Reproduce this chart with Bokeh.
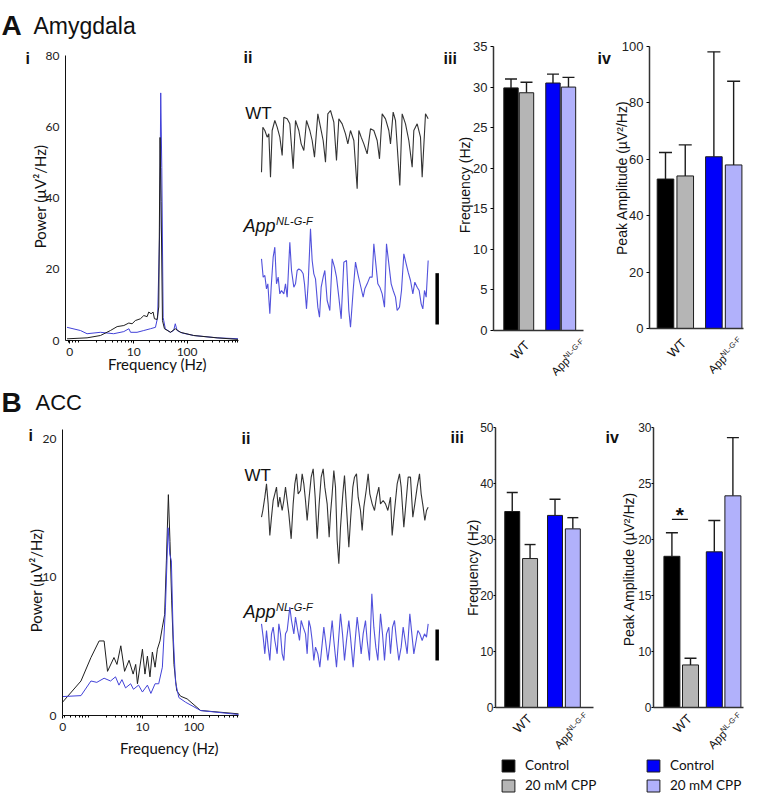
import math
from bokeh.plotting import figure
from bokeh.layouts import row, column
from bokeh.models import (Range1d, FixedTicker, Label, Legend, LegendItem, LinearAxis,
                          LogAxis, Whisker, TeeHead, ColumnDataSource,
                          CustomJSTickFormatter)
from bokeh.embed import file_html
from bokeh.resources import INLINE

ARIAL = "Liberation Sans"
CAL = "Lato"

# ---------------------------------------------------------------- data
GROUPS = ["WT", "App"]
CONDITIONS = ["Control", "20 mM CPP"]
BAR_COLORS = ["#000000", "#b5b5b5", "#0000fa", "#b1b1fb"]

A_FREQ_MEAN = [29.9, 29.3, 30.5, 30.0]
A_FREQ_SEM = [1.1, 1.3, 1.1, 1.2]
A_AMP_MEAN = [53.0, 54.1, 60.9, 58.0]
A_AMP_SEM = [9.4, 11.0, 37.2, 29.7]
B_FREQ_MEAN = [35.0, 26.6, 34.3, 31.9]
B_FREQ_SEM = [3.4, 2.5, 2.9, 2.0]
B_AMP_MEAN = [18.5, 8.8, 18.9, 23.9]
B_AMP_SEM = [2.1, 0.6, 2.8, 5.2]
B_AMP_SIG = 21.8
B_AMP_AXIS_BASE = 5   # the bottom of this broken axis sits at 5 but is labelled "0"

# power spectra (Hz, uV^2/Hz)
A_WT_F = [0.56, 1.33, 2.37, 3.65, 4.87, 6.5, 8.06, 9.3, 10.7, 13.3, 15.4, 17.8, 19.1, 21.1,
          23.0, 24.4, 27.4, 29.4, 31.1, 32.5, 34.5, 37.6, 48.7, 60, 75, 133, 365, 900]
A_WT_P = [0.47, 0.75, 1.4, 2.8, 3.9, 4.2, 4.9, 4.7, 5.6, 6.1, 7.0, 6.7, 8.0, 7.5,
          8.0, 6.1, 5.9, 9.4, 57.0, 39.0, 5.6, 3.3, 2.3, 3.3, 2.3, 1.4, 0.75, 0.3]
A_APP_F = [0.56, 1.0, 1.33, 2.37, 4.2, 6.5, 8.1, 8.7, 11.5, 15.4, 20.5, 25.5, 28.0,
           30.7, 32.0, 33.5, 35.5, 39.0, 48.7, 56, 60, 65, 81, 133, 365, 900]
A_APP_P = [3.7, 2.8, 1.9, 2.3, 1.9, 2.5, 3.3, 2.3, 2.3, 2.8, 3.3, 3.7, 6.5,
           31.8, 69.5, 48.6, 6.5, 3.3, 2.3, 2.8, 4.7, 2.8, 2.1, 1.4, 0.75, 0.5]
B_WT_F = [0.28, 0.64, 1.0, 1.44, 1.8, 2.1, 2.8, 3.2, 3.8, 4.5, 5.5, 6.6, 7.4, 8.0, 10,
          11.2, 12.5, 14, 15.6, 17.6, 19.5, 21.9, 24.4, 27, 29.2, 31.9, 34.3, 37, 41,
          46.3, 55, 74, 135, 735]
B_WT_P = [0.96, 2.5, 4.2, 5.4, 5.4, 3.2, 4.2, 3.7, 5.05, 3.2, 4.0, 3.0, 3.7, 2.3, 4.8,
          3.0, 4.3, 2.8, 4.6, 3.5, 4.8, 5.4, 6.4, 7.3, 11.2, 16.0, 12.6, 8.3, 3.7,
          1.8, 1.4, 1.2, 0.36, 0.12]
B_APP_F = [0.28, 0.64, 1.0, 1.3, 1.8, 2.4, 3.0, 3.5, 4.0, 4.7, 5.9, 6.7, 8.4, 10, 12.5,
           14.6, 17.6, 20.7, 24.4, 28, 31.5, 34, 36.5, 39.5, 44, 51, 69, 135, 735]
B_APP_P = [1.37, 1.44, 2.5, 2.4, 2.7, 2.5, 2.8, 2.2, 2.6, 2.0, 2.3, 1.9, 2.2, 1.7, 2.2,
           1.6, 2.3, 2.3, 3.5, 7.8, 13.6, 11.7, 11.2, 5.9, 2.4, 1.3, 0.96, 0.36, 0.07]

# example traces (ms, arbitrary voltage units)
A_WT_T = [0, 2, 5, 8.5, 11, 13.5, 16, 20, 23.5, 27.5, 31, 33.5, 38.5, 42.5, 47.5, 51, 56,
          59.5, 63.5, 67.5, 72.5, 76, 79.5, 84.5, 88.5, 92.5, 96, 99.5, 103.5, 108.5,
          112.5, 116, 121, 126, 129.5, 133.5, 138.5, 143.5, 146, 149.5, 153.5, 158.5,
          163.5, 168.5, 173.5, 177, 181, 186, 191, 193.5, 197.5, 201, 207.5, 211, 216,
          221, 226, 228.5, 233.5, 238.5, 241, 246, 250]
A_WT_V = [-1.25, 0.10, 0.00, -0.20, -0.10, -1.40, 0.00, 0.30, 0.10, -0.20, -0.75, 0.40,
          0.35, 0.20, -1.15, 0.30, 0.00, -0.40, -0.60, 0.30, 0.00, -0.30, -0.80, 0.50,
          0.10, -0.30, -0.95, 0.50, 0.60, 0.25, -0.90, 0.35, 0.20, -0.10, -0.40, 0.00,
          -0.30, -1.75, 0.00, -0.20, -0.40, -0.70, 0.05, 0.00, -0.30, -0.85, 0.50, 0.35,
          0.00, -0.40, 0.55, 0.30, -1.65, 0.50, 0.20, -0.30, -1.10, 0.00, 0.20, -0.20,
          -1.40, 0.50, 0.35]
A_APP_T = [0, 2.5, 5, 7.5, 9.5, 12.5, 14.5, 17.5, 20, 22.5, 25, 27.5, 30, 33.5, 36, 38.5,
           42.5, 45, 48.5, 51, 53.5, 56, 59.5, 62.5, 64.5, 67.5, 70, 73.5, 76, 78.5, 81,
           84.5, 87, 89.5, 92.5, 95, 98.5, 102.5, 106, 109.5, 112.5, 116, 119.5, 123.5,
           127.5, 131, 133.5, 137.5, 141, 144.5, 148.5, 152.5, 155, 158.5, 162.5, 166,
           168.5, 171.5, 174.5, 177.5, 181, 184.5, 187.5, 191, 194.5, 197.5, 201, 203.5,
           207, 210, 213.5, 217, 220, 223.5, 227, 230, 233.5, 236.5, 239.5, 242, 244.5,
           247, 250]
A_APP_V = [0.65, 0.10, 0.15, -0.25, -0.10, -1.00, -0.20, 0.70, 1.00, -0.10, 0.10, -0.40,
           -0.30, -0.40, -0.10, -0.50, 1.15, 0.30, -0.20, -0.10, 0.30, 0.35, 0.30, 0.20,
           -0.10, -0.85, -0.10, 1.55, 0.60, 0.20, 0.05, -0.80, -1.10, -0.20, 0.10, 0.30,
           -0.60, -0.90, 0.65, 0.40, 0.10, -0.50, -1.15, 0.55, 0.60, -0.90, -1.40, -0.30,
           0.55, 0.20, -0.15, -0.50, -0.25, -0.10, 0.10, 0.10, 1.10, 0.50, -0.10, -0.20,
           -0.40, -0.80, 1.10, 0.50, -0.10, -0.30, -0.50, -0.90, -0.80, -0.30, 0.80, 0.50,
           0.25, 0.00, -0.40, -0.05, -0.20, -0.30, -0.70, -0.85, -0.30, -0.50, 0.60]
B_WT_T = [0, 2, 5, 7.5, 10, 12.5, 15, 17.5, 20, 22.5, 25, 27.5, 31, 33.5, 36, 38.5, 41,
          44.5, 47.5, 50, 52.5, 55, 58.5, 61, 63.5, 66, 68.5, 71.5, 74.5, 77.5, 80.5,
          83.5, 86.5, 89.5, 92.5, 95, 98.5, 101.5, 103.5, 106, 108.5, 111, 113.5, 116,
          118.5, 122, 124.5, 127.5, 131, 133.5, 137, 139.5, 142.5, 145, 148.5, 151,
          153.5, 157, 160, 162.5, 166, 169.5, 172.5, 176, 178.5, 182.5, 186, 189.5,
          193.5, 196, 199.5, 203.5, 207, 209.5, 213.5, 217, 220, 223.5, 227, 230, 233.5,
          237, 239.5, 242.5, 245, 247.5, 250]
B_WT_V = [0.10, 0.30, 0.70, 1.10, 0.50, -0.45, 0.10, 0.60, 0.80, 1.00, 0.40, 0.70, 0.30,
          0.60, 1.00, 0.60, 0.20, -0.55, 0.50, 1.10, 1.40, 0.80, 0.90, 1.40, 1.10, 0.60,
          0.00, 0.70, 1.30, 1.55, 0.70, -0.55, 0.50, 1.30, 1.55, 1.00, 0.50, -0.50, 0.20,
          0.80, 1.50, 1.00, -0.60, -1.30, -0.20, 0.80, 1.35, 0.40, -0.80, 0.00, 1.00,
          1.30, 1.40, 0.70, 0.30, -0.30, 0.40, 0.90, 1.40, 0.80, 0.50, 0.30, 0.70, 1.00,
          0.50, 0.60, 0.50, 0.30, 0.70, -0.45, 0.30, 1.10, 1.40, 1.00, -0.20, 0.60, 1.30,
          1.30, 0.10, 0.50, 1.00, 1.40, 0.80, 0.40, 0.00, 0.30, 0.40]
B_APP_T = [0, 2.5, 5, 7.5, 10, 12.5, 15, 17.5, 20, 23.5, 26, 28.5, 31, 33.5, 36, 38.5,
           42.5, 45, 48.5, 51, 53.5, 57, 59.5, 62.5, 66, 68.5, 71, 73.5, 76, 78.5, 81,
           84.5, 87.5, 90.5, 93.5, 96, 99.5, 102.5, 106, 108.5, 112.5, 115.5, 118.5,
           121.5, 124.5, 127.5, 131, 133.5, 137.5, 140.5, 143.5, 146.5, 149.5, 152.5,
           156, 158.5, 162, 165.5, 168.5, 171.5, 174.5, 178.5, 181.5, 184.5, 187.5, 191,
           193.5, 196.5, 199.5, 202.5, 206, 209.5, 212.5, 215.5, 218.5, 222.5, 225.5,
           228.5, 232, 234.5, 237.5, 241, 244.5, 247.5, 250]
B_APP_V = [0.30, -0.10, -0.60, 0.10, -0.40, -0.80, 0.00, 0.20, -0.20, -0.60, 0.30, 0.00,
           -0.60, -0.80, 0.00, 0.10, 0.80, 0.40, 0.00, 0.50, 0.20, -0.20, 0.40, 0.20,
           0.00, -0.60, 0.40, 0.20, -0.20, -0.80, -0.40, -0.60, -1.00, -0.40, 0.20,
           -0.20, -0.80, -0.30, 0.40, -0.20, -1.00, -0.20, 0.60, 0.00, -0.80, -0.20,
           0.40, -0.10, -1.00, -0.20, 0.50, 0.00, -0.60, 0.00, 0.40, -0.20, -0.80, 1.20,
           0.20, -0.40, -0.80, 0.60, 0.00, -0.80, 0.00, 0.20, -0.60, 0.20, 0.40, -0.20,
           -0.80, -0.40, 0.20, -0.20, -0.60, 0.60, 0.00, -0.60, -0.20, 0.10, 0.00,
           -0.20, 0.00, -0.10, 0.30]
SCALE_A = 1.54
SCALE_B = 0.93


# ---------------------------------------------------------------- helpers
def span_range(v0, v1, lo_px, hi_px, total_px, log=False):
    if log:
        v0, v1 = math.log10(v0), math.log10(v1)
    per = (v1 - v0) / (total_px - lo_px - hi_px)
    a, b = v0 - lo_px * per, v1 + hi_px * per
    if log:
        a, b = 10 ** a, 10 ** b
    return Range1d(a, b)


def new_fig(w, h, xr, yr, x_type="linear"):
    p = figure(width=w, height=h, x_range=xr, y_range=yr, x_axis_type=x_type,
               x_axis_location=None, y_axis_location=None,
               output_backend="svg", toolbar_location=None, min_border=0,
               frame_align=False)
    for g in p.grid:
        g.visible = False
    p.outline_line_color = None
    return p


def txt(p, text, x, y, size, org=(0, 0), font=ARIAL, style="normal", align="left",
        baseline="alphabetic", angle=0.0, units="screen", dx=0, dy=0, color="#111111"):
    if units == "screen":
        x, y = x + org[0], y + org[1]
    p.add_layout(Label(x=x, y=y, x_units=units, y_units=units, text=text,
                       text_font=font, text_font_size=f"{size}px", text_font_style=style,
                       text_align=align, text_baseline=baseline, angle=angle,
                       x_offset=dx, y_offset=dy, text_color=color))


def add_axes(p, x0, x1, y0, y1, log_x=False):
    ax_cls = LogAxis if log_x else LinearAxis
    xa = ax_cls(fixed_location=y0, bounds=(x0, x1))
    ya = LinearAxis(fixed_location=x0, bounds=(y0, y1))
    p.add_layout(xa, "below")
    p.add_layout(ya, "left")
    return xa, ya


def psd_panel(w, h, box, x_start, x_end, zero_tick, y_end, y_ticks, wt, app, app_on_top):
    left, right, top, bottom = box
    p = new_fig(w, h, span_range(x_start, x_end, left, right, w, log=True),
                span_range(0, y_end, bottom, top, h), x_type="log")
    black = dict(line_color="#1e1e1e", line_width=1)
    blue = dict(line_color="#4242d8", line_width=1)
    if app_on_top:
        p.line(wt[0], wt[1], **black)
        p.line(app[0], app[1], **blue)
    else:
        p.line(app[0], app[1], **blue)
        p.line(wt[0], wt[1], **black)
    xa, ya = add_axes(p, x_start, x_end, 0, y_end, log_x=True)
    minor = [m * 10.0 ** e for e in range(-1, 3) for m in range(2, 10)
             if x_start < m * 10.0 ** e < x_end]
    xa.ticker = FixedTicker(ticks=[zero_tick, 10, 100], minor_ticks=minor)
    xa.major_label_overrides = {zero_tick: "0", 10: "10", 100: "100"}
    xa.major_tick_out = 3
    xa.major_tick_in = 0
    xa.minor_tick_out = 2
    xa.minor_tick_in = 0
    xa.major_label_standoff = 4
    ya.ticker = FixedTicker(ticks=y_ticks)
    ya.major_tick_out = 0
    ya.major_tick_in = 0
    ya.minor_tick_line_color = None
    ya.major_label_standoff = 6
    for a in (xa, ya):
        a.axis_line_color = "#111111"
        a.axis_line_width = 1
        a.major_label_text_font = CAL
        a.major_label_text_font_size = "12px"
        a.major_label_text_color = "#222222"
    return p


def bar_panel(w, h, box, pos, x0, x1, y_end, means, sems, bar_w, head, yticks,
              tick_out, tick_std, tick_size, lab_dx, lab_dy, base=0):
    """Bars start at `base`; the axis is drawn from 0 in shifted units (value - base),
    and tick labels show the real value, the bottom tick being labelled 0."""
    left, right, top, bottom = box
    span = y_end - base
    p = new_fig(w, h, span_range(x0, x1, left, right, w),
                span_range(0, span, bottom, top, h))
    shifted = [m - base for m in means]
    src = ColumnDataSource(dict(x=pos, top=shifted, bottom=[0] * len(means),
                                upper=[m + s for m, s in zip(shifted, sems)],
                                color=BAR_COLORS))
    p.vbar(x="x", top="top", bottom="bottom", width=bar_w, fill_color="color",
           line_color="#1c1c1c", line_width=1, source=src)
    p.add_layout(Whisker(source=src, base="x", lower="top", upper="upper",
                         dimension="height", line_color="#1c1c1c", line_width=1.4,
                         lower_head=None,
                         upper_head=TeeHead(size=head, line_color="#1c1c1c",
                                            line_width=1.4)))
    xa, ya = add_axes(p, x0, x1, 0, span)
    ya.ticker = FixedTicker(ticks=[t - base for t in yticks])
    ya.formatter = CustomJSTickFormatter(
        args=dict(base=base),
        code="return (Math.abs(tick) < 1e-9) ? '0' : String(Math.round(tick + base));")
    ya.major_tick_out = tick_out
    ya.major_tick_in = 0
    ya.minor_tick_line_color = None
    ya.major_label_standoff = tick_std
    ya.major_label_text_font = ARIAL
    ya.major_label_text_font_size = f"{tick_size}px"
    ya.major_label_text_color = "#222222"
    xa.ticker = FixedTicker(ticks=[])
    xa.major_tick_line_color = None
    xa.minor_tick_line_color = None
    xa.major_label_text_font_size = "0px"
    for a in (xa, ya):
        a.axis_line_color = "#333333"
        a.axis_line_width = 1.5
    # rotated category labels
    c_wt = (pos[0] + pos[1]) / 2
    c_app = (pos[2] + pos[3]) / 2
    rot = math.pi / 4
    txt(p, GROUPS[0], c_wt, 0, 13, align="right", angle=rot, units="data",
        dx=8.5, dy=-12.5 + lab_dy)
    txt(p, GROUPS[1], c_app, 0, 11.5, align="right", angle=rot, units="data",
        dx=7 + lab_dx, dy=-28.5 + lab_dy)
    txt(p, "NL-G-F", c_app, 0, 7.5, align="right", angle=rot, units="data",
        dx=21.5 + lab_dx, dy=-9.5 + lab_dy)
    return p


def trace_panel(h, yr, wt_t, wt_v, app_t, app_v, app_off, bar_len, bar_top_rel):
    p = new_fig(203, h, Range1d(-31.5, 273), Range1d(*yr))
    p.line(wt_t, wt_v, line_color="#333333", line_width=1.1)
    p.line(app_t, [v + app_off for v in app_v], line_color="#5252dc", line_width=1.1)
    sb_x = app_t[-1] + 13.5
    sb_top = app_off + bar_top_rel
    p.segment(x0=[sb_x], y0=[sb_top], x1=[sb_x], y1=[sb_top - bar_len],
              line_color="#000000", line_width=3.5)
    return p


# ---------------------------------------------------------------- row A
BOX_AI = (65, 2, 55, 40)
pAi = psd_panel(240, 380, BOX_AI, 0.524, 920, 0.63, 80, [0, 20, 40, 60, 80],
                (A_WT_F, A_WT_P), (A_APP_F, A_APP_P), app_on_top=False)
o = (BOX_AI[0], BOX_AI[3])
txt(pAi, "A", -64, 315, 28, o, style="bold")
txt(pAi, "Amygdala", -32, 315, 23, o)
txt(pAi, "i", -40, 282, 16, o, style="bold")
txt(pAi, "Power (\u00b5V\u00b2/Hz)", -26, 144, 15, o, font=CAL, align="center",
    baseline="middle", angle=math.pi / 2)
txt(pAi, "Frequency (Hz)", 92, -23.8, 15, o, font=CAL, align="center")

pAii = trace_panel(380, (-7.5, 3.9), A_WT_T, A_WT_V, A_APP_T, A_APP_V, -4.5,
                   SCALE_A, 0.22)
txt(pAii, "ii", 3, 323, 16, style="bold")
txt(pAii, "WT", 4.7, 266.7, 17)
txt(pAii, "App", 3, 154.3, 18, style="italic")
txt(pAii, "NL-G-F", 35.5, 160, 11, style="italic")

BOX_A3 = (50, 12, 46, 50)
POS_A3 = [0, 1, 2.71, 3.71]
pAiii = bar_panel(152, 380, BOX_A3, POS_A3, -1.13, 4.68, 35,
                  A_FREQ_MEAN, A_FREQ_SEM, 0.93, 12, [0, 5, 10, 15, 20, 25, 30, 35],
                  3, 3, 13, 0, 0)
o = (BOX_A3[0], BOX_A3[3])
txt(pAiii, "iii", -50, 272, 16, o, style="bold")
txt(pAiii, "Frequency (Hz)", -29, 145.5, 14, o, align="center", baseline="middle",
    angle=math.pi / 2)

BOX_A4 = (54, 2, 46, 52)
POS_A4 = [0, 1, 2.45, 3.45]
pAiv = bar_panel(150, 380, BOX_A4, POS_A4, -0.81, 3.95, 100,
                 A_AMP_MEAN, A_AMP_SEM, 0.84, 13, [0, 20, 40, 60, 80, 100],
                 3, 3, 13, -6, 0)
o = (BOX_A4[0], BOX_A4[3])
txt(pAiv, "iv", -52, 270, 16, o, style="bold")
txt(pAiv, "Peak Amplitude (\u00b5V\u00b2/Hz)", -28, 150.7, 14, o, align="center",
    baseline="middle", angle=math.pi / 2)

# ---------------------------------------------------------------- row B
BOX_BI = (62, 2, 49, 78)
pBi = psd_panel(240, 413, BOX_BI, 0.28, 735, 0.282, 20.72, [0, 10, 20],
                (B_WT_F, B_WT_P), (B_APP_F, B_APP_P), app_on_top=True)
o = (BOX_BI[0], BOX_BI[3])
txt(pBi, "B", -61, 313, 28, o, style="bold")
txt(pBi, "ACC", -27, 313, 22, o)
txt(pBi, "i", -34, 280, 16, o, style="bold")
txt(pBi, "Power (\u00b5V\u00b2/Hz)", -27, 135, 15, o, font=CAL, align="center",
    baseline="middle", angle=math.pi / 2)
txt(pBi, "Frequency (Hz)", 107, -32.5, 15, o, font=CAL, align="center")

pBii = trace_panel(413, (-8.19, 4.2), B_WT_T, B_WT_V, B_APP_T, B_APP_V, -3.4,
                   SCALE_B, 0.13)
txt(pBii, "ii", 1, 355, 16, style="bold")
txt(pBii, "WT", 4, 318, 17)
txt(pBii, "App", 3, 181.3, 18, style="italic")
txt(pBii, "NL-G-F", 35.5, 187, 11, style="italic")

BOX_B3 = (52, 2, 47, 46)
POS_B3 = [0, 1, 2.4, 3.4]
pBiii = bar_panel(152, 373, BOX_B3, POS_B3, -0.94, 4.56, 50,
                  B_FREQ_MEAN, B_FREQ_SEM, 0.84, 11, [0, 10, 20, 30, 40, 50],
                  2, 0, 12, 0, 3.5)
o = (BOX_B3[0], BOX_B3[3])
txt(pBiii, "iii", -45, 270, 16, o, style="bold")
txt(pBiii, "Frequency (Hz)", -22.5, 139.8, 14, o, align="center", baseline="middle",
    angle=math.pi / 2)

BOX_B4 = (58, 2, 47, 46)
POS_B4 = [0, 1, 2.28, 3.28]
pBiv = bar_panel(150, 373, BOX_B4, POS_B4, -0.99, 3.85, 30,
                 B_AMP_MEAN, B_AMP_SEM, 0.86, 12, [5, 10, 15, 20, 25, 30],
                 2, 0, 12, -6, 3.5, base=B_AMP_AXIS_BASE)
o = (BOX_B4[0], BOX_B4[3])
txt(pBiv, "iv", -48, 270, 16, o, style="bold")
txt(pBiv, "Peak Amplitude (\u00b5V\u00b2/Hz)", -24.3, 138.3, 14, o, align="center",
    baseline="middle", angle=math.pi / 2)
sig_x0, sig_x1 = POS_B4[0], POS_B4[1] - 0.14
sig_y = B_AMP_SIG - B_AMP_AXIS_BASE
pBiv.segment(x0=[sig_x0], y0=[sig_y], x1=[sig_x1], y1=[sig_y],
             line_color="#111111", line_width=1.3)
txt(pBiv, "*", (sig_x0 + sig_x1) / 2, sig_y, 21, style="bold", align="center",
    units="data", dy=5)


# ---------------------------------------------------------------- legends
def legend_fig(w, colors, x):
    p = new_fig(w, 40, Range1d(0, 1), Range1d(0, 1))
    items = []
    for lab, col in zip(CONDITIONS, colors):
        # stand-in renderer kept outside the visible range; only its legend swatch shows
        r = p.vbar(x=[5], top=[5], bottom=[4], width=0.5, fill_color=col,
                   line_color="#1c1c1c", line_width=1)
        items.append(LegendItem(label=lab, renderers=[r]))
    lg = Legend(items=items, location=(x, 0), orientation="vertical",
                glyph_width=16, glyph_height=15, label_standoff=9, spacing=4,
                padding=0, margin=0, border_line_color=None, background_fill_alpha=0,
                label_text_font=CAL, label_text_font_size="13.5px", label_height=15,
                label_text_color="#111111")
    p.add_layout(lg)
    return p


pLiii = legend_fig(160, BAR_COLORS[:2], 57)
pLiv = legend_fig(142, BAR_COLORS[2:], 42)

layout = column(
    row(pAi, pAii, pAiii, pAiv),
    row(pBi, pBii, column(row(pBiii, pBiv), row(pLiii, pLiv))),
)

open("out.html", "w").write(file_html(layout, INLINE))
